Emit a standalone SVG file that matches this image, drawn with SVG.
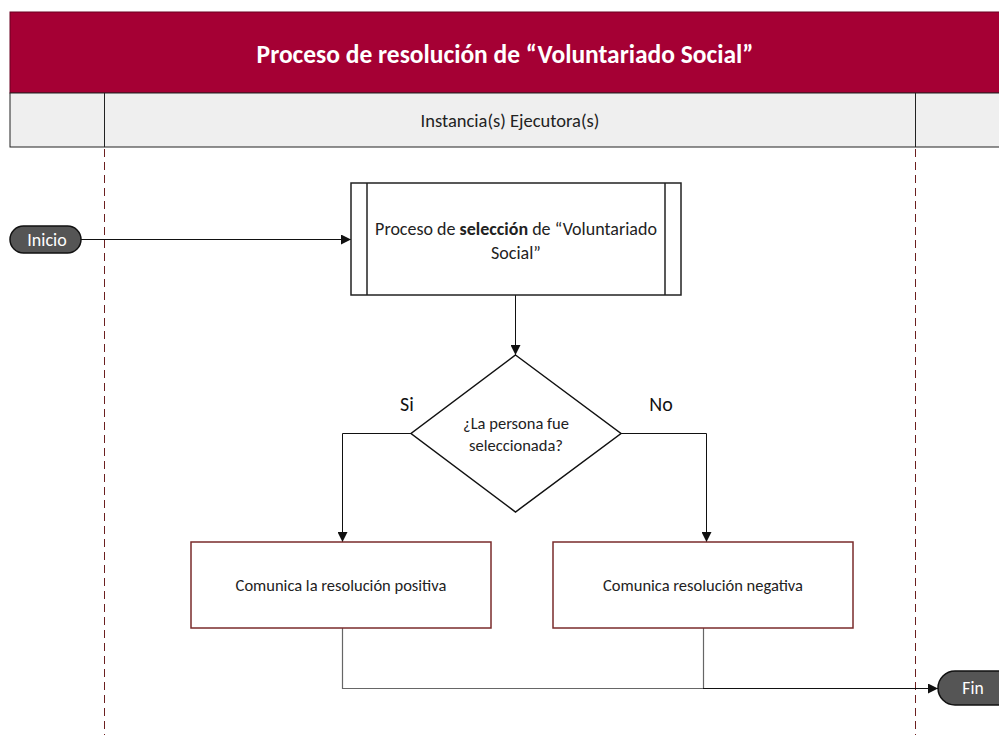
<svg xmlns="http://www.w3.org/2000/svg" width="999" height="735" viewBox="0 0 999 735">
<style>
text{font-family:Carlito,Calibri,"Liberation Sans Narrow","Liberation Sans",sans-serif;}
.t{fill:#222;text-anchor:middle;}
.lane{stroke:#6b1f1f;stroke-width:1;stroke-dasharray:8,5;fill:none;}
.c{stroke:#111;stroke-width:1;fill:none;}
.g{stroke:#666;stroke-width:1.2;fill:none;}
.box{fill:#fff;stroke:#7a2b2b;stroke-width:1.5;}
.term{fill:#555;stroke:#111;stroke-width:1.5;}
</style>
<defs>
<marker id="ah" viewBox="0 0 10 10" refX="10" refY="5" markerWidth="10" markerHeight="10" markerUnits="userSpaceOnUse" orient="auto"><path d="M0,0L10,5L0,10z" fill="#111"/></marker>
</defs>
<rect width="999" height="735" fill="#fff"/>
<g id="header">
<rect x="10" y="12" width="995" height="81" fill="#a50034" stroke="#6b0020" stroke-width="1"/>
<text x="505" y="63" font-size="25.5" font-weight="bold" fill="#fff" text-anchor="middle">Proceso de resolución de “Voluntariado Social”</text>
<rect x="10" y="93" width="995" height="54" fill="#efefef" stroke="#222" stroke-width="1"/>
<line x1="104.5" y1="93" x2="104.5" y2="147" stroke="#222"/>
<line x1="915.5" y1="93" x2="915.5" y2="147" stroke="#222"/>
<text x="510" y="127" font-size="18.5" fill="#222" text-anchor="middle">Instancia(s) Ejecutora(s)</text>
</g>
<g id="lanes">
<line class="lane" x1="104.5" y1="149" x2="104.5" y2="735"/>
<line class="lane" x1="915.5" y1="149" x2="915.5" y2="735"/>
</g>
<g id="connectors">
<line class="c" x1="81" y1="239.5" x2="351" y2="239.5" marker-end="url(#ah)"/>
<line class="c" x1="515.5" y1="295" x2="515.5" y2="355" marker-end="url(#ah)"/>
<polyline class="c" points="411,433.5 342.5,433.5 342.5,542" marker-end="url(#ah)"/>
<polyline class="c" points="621,433.5 706.5,433.5 706.5,542" marker-end="url(#ah)"/>
<polyline class="g" points="342.5,628 342.5,688.5 703,688.5"/>
<line class="g" x1="703.5" y1="628" x2="703.5" y2="688"/>
<line class="c" x1="703" y1="688.5" x2="938" y2="688.5" marker-end="url(#ah)"/>
<text x="407" y="411" font-size="20" fill="#111" text-anchor="middle">Si</text>
<text x="661" y="411" font-size="20" fill="#111" text-anchor="middle">No</text>
</g>
<g id="inicio">
<rect class="term" x="10" y="226" width="71" height="27" rx="13.5"/>
<text x="47" y="246" font-size="18" fill="#fff" text-anchor="middle">Inicio</text>
</g>
<g id="seleccion">
<rect x="351" y="183" width="330" height="112" fill="#fff" stroke="#222" stroke-width="1.5"/>
<line x1="367" y1="183" x2="367" y2="295" stroke="#222" stroke-width="1.5"/>
<line x1="665" y1="183" x2="665" y2="295" stroke="#222" stroke-width="1.5"/>
<text class="t" x="516" y="235" font-size="18">Proceso de <tspan font-weight="bold">selección</tspan> de “Voluntariado</text>
<text class="t" x="516" y="259" font-size="18">Social”</text>
</g>
<g id="decision">
<polygon points="515.5,355 621,433.5 515.5,512 411,433.5" fill="#fff" stroke="#111" stroke-width="1.5"/>
<text class="t" x="516" y="429" font-size="16.5">¿La persona fue</text>
<text class="t" x="516" y="451" font-size="16.5">seleccionada?</text>
</g>
<g id="positiva">
<rect class="box" x="191" y="542" width="300" height="86"/>
<text class="t" x="341" y="591" font-size="16.5">Comunica la resolución positiva</text>
</g>
<g id="negativa">
<rect class="box" x="553" y="542" width="300" height="86"/>
<text class="t" x="703" y="591" font-size="16.5">Comunica resolución negativa</text>
</g>
<g id="fin">
<rect class="term" x="938" y="671" width="80" height="34" rx="17"/>
<text x="973" y="694" font-size="17.5" fill="#fff" text-anchor="middle">Fin</text>
</g>
</svg>
